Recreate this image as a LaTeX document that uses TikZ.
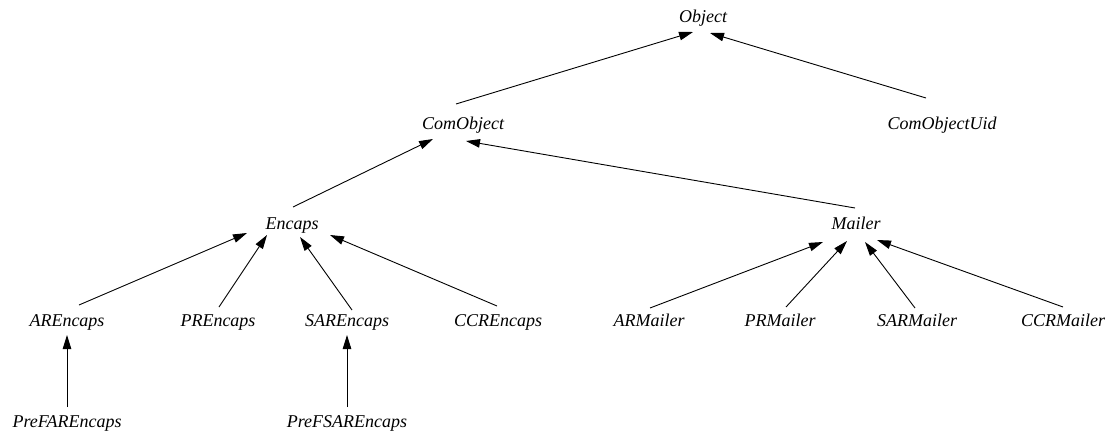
\documentclass[tikz,border=0pt]{standalone}
\usepackage{fontspec}
\setmainfont{Liberation Serif}
\usetikzlibrary{calc,arrows.meta}

\begin{document}
\begin{tikzpicture}[x=1pt,y=-1pt,
  cls/.style={anchor=base,inner sep=0pt,font=\fontsize{18}{20}\selectfont\itshape},
  inherit/.style={line width=0.9pt,-{Triangle[length=14pt,width=8.5pt]}}]
\useasboundingbox (0,0) rectangle (1107,433);

% class names, placed on their baselines
\node[cls] (obj)    at (703,23)  {Object};
\node[cls] (co)     at (463,129) {ComObject};
\node[cls] (uid)    at (942,129) {ComObjectUid};
\node[cls] (enc)    at (292,229) {Encaps};
\node[cls] (mai)    at (856,229) {Mailer};
\node[cls] (are)    at (67,326)  {AREncaps};
\node[cls] (pre)    at (218,326) {PREncaps};
\node[cls] (sare)   at (347,326) {SAREncaps};
\node[cls] (ccre)   at (498,326) {CCREncaps};
\node[cls] (arm)    at (649,326) {ARMailer};
\node[cls] (prm)    at (780,326) {PRMailer};
\node[cls] (sarm)   at (917,326) {SARMailer};
\node[cls] (ccrm)   at (1063,326){CCRMailer};
\node[cls] (pfare)  at (67,427)  {PreFAREncaps};
\node[cls] (pfsare) at (347,427) {PreFSAREncaps};

% inheritance arrows, from subclass to base class
\draw[inherit] ($(co.base)+(-7,-25)$)   -- ($(obj.base)+(-10,9)$);
\draw[inherit] ($(uid.base)+(-16,-31)$) -- ($(obj.base)+(7,10)$);
\draw[inherit] ($(enc.base)+(1,-22)$)   -- ($(co.base)+(-30,10)$);
\draw[inherit] ($(mai.base)+(-1,-21)$)  -- ($(co.base)+(3,12)$);
\draw[inherit] ($(are.base)+(12,-21)$)  -- ($(enc.base)+(-45,4)$);
\draw[inherit] ($(pre.base)+(1,-19)$)   -- ($(enc.base)+(-25,6)$);
\draw[inherit] ($(sare.base)+(5,-16)$)  -- ($(enc.base)+(8,8)$);
\draw[inherit] ($(ccre.base)+(-1,-20)$) -- ($(enc.base)+(38,6)$);
\draw[inherit] ($(pfare.base)+(0,-20)$) -- ($(are.base)+(0,9)$);
\draw[inherit] ($(pfsare.base)+(0,-20)$)-- ($(sare.base)+(0,9)$);
\draw[inherit] ($(arm.base)+(1,-18)$)   -- ($(mai.base)+(-33,13)$);
\draw[inherit] ($(prm.base)+(6,-19)$)   -- ($(mai.base)+(-9,12)$);
\draw[inherit] ($(sarm.base)+(-2,-18)$) -- ($(mai.base)+(9,13)$);
\draw[inherit] ($(ccrm.base)+(0,-19)$)  -- ($(mai.base)+(21,11)$);
\end{tikzpicture}
\end{document}
